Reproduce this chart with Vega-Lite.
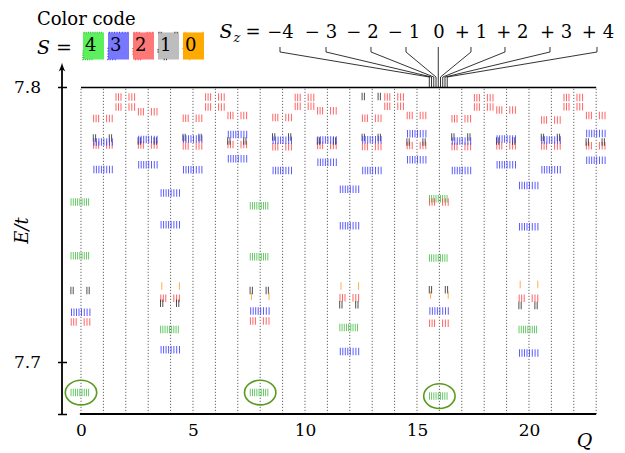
{
  "$schema": "https://vega.github.io/schema/vega-lite/v6.json",
  "width": 553,
  "height": 414,
  "autosize": {"type": "none"},
  "padding": {"left": 62, "top": 0, "right": 10, "bottom": 39},
  "background": "white",
  "config": {"view": {"stroke": null}, "font": "DejaVu Serif"},
  "title": {"text": "Color code", "anchor": "start", "frame": "group", "offset": -25, "dy": 22, "dx": -25, "fontSize": 18, "fontWeight": "normal", "font": "DejaVu Serif", "color": "black", "baseline": "bottom"},
  "datasets": {
    "grid": [{"Q":0},{"Q":1},{"Q":2},{"Q":3},{"Q":4},{"Q":5},{"Q":6},{"Q":7},{"Q":8},{"Q":9},{"Q":10},{"Q":11},{"Q":12},{"Q":13},{"Q":14},{"Q":15},{"Q":16},{"Q":17},{"Q":18},{"Q":19},{"Q":20},{"Q":21},{"Q":22},{"Q":23}],
    "ground": [{"Q":0,"E":7.6890},{"Q":8,"E":7.6890},{"Q":16,"E":7.6877}],
    "sz": [
      {"Sz":-4,"lab":"−4","cq":8.906,"lq":8.884,"tq":15.55},
      {"Sz":-3,"lab":"− 3","cq":10.714,"lq":10.938,"tq":15.65},
      {"Sz":-2,"lab":"− 2","cq":12.567,"lq":12.946,"tq":15.75},
      {"Sz":-1,"lab":"− 1","cq":14.42,"lq":14.509,"tq":15.85},
      {"Sz":0,"lab":"0","cq":15.98,"lq":15.95,"tq":15.95},
      {"Sz":1,"lab":"+ 1","cq":17.41,"lq":17.41,"tq":16.05},
      {"Sz":2,"lab":"+ 2","cq":19.26,"lq":18.929,"tq":16.15},
      {"Sz":3,"lab":"+ 3","cq":21.21,"lq":20.938,"tq":16.25},
      {"Sz":4,"lab":"+ 4","cq":23.08,"lq":23.036,"tq":16.35}
    ],
    "levels": [
      {"Q":0,"E":7.7583,"S":4},{"Q":0,"E":7.7388,"S":4},{"Q":0,"E":7.7261,"S":1},{"Q":0,"E":7.7182,"S":3},{"Q":0,"E":7.7147,"S":2},{"Q":0,"E":7.6890,"S":4},
      {"Q":1,"E":7.7887,"S":2},{"Q":1,"E":7.7791,"S":2},{"Q":1,"E":7.7816,"S":1},{"Q":1,"E":7.7802,"S":3},{"Q":1,"E":7.7702,"S":3},
      {"Q":2,"E":7.7965,"S":2},{"Q":2,"E":7.7929,"S":2},
      {"Q":3,"E":7.7912,"S":2},{"Q":3,"E":7.7791,"S":2},{"Q":3,"E":7.7805,"S":1},{"Q":3,"E":7.7811,"S":3},{"Q":3,"E":7.7719,"S":3},
      {"Q":4,"E":7.7616,"S":3},{"Q":4,"E":7.7501,"S":3},{"Q":4,"E":7.7278,"S":0},{"Q":4,"E":7.7233,"S":2},{"Q":4,"E":7.7215,"S":1},{"Q":4,"E":7.7119,"S":4},{"Q":4,"E":7.7046,"S":3},
      {"Q":5,"E":7.7888,"S":2},{"Q":5,"E":7.7787,"S":2},{"Q":5,"E":7.7818,"S":1},{"Q":5,"E":7.7813,"S":3},{"Q":5,"E":7.7701,"S":3},
      {"Q":6,"E":7.7965,"S":2},{"Q":6,"E":7.7929,"S":2},
      {"Q":7,"E":7.7898,"S":2},{"Q":7,"E":7.7793,"S":2},{"Q":7,"E":7.7805,"S":1},{"Q":7,"E":7.7829,"S":3},{"Q":7,"E":7.7741,"S":3},
      {"Q":8,"E":7.7570,"S":4},{"Q":8,"E":7.7384,"S":4},{"Q":8,"E":7.7261,"S":1},{"Q":8,"E":7.7240,"S":0},{"Q":8,"E":7.7187,"S":3},{"Q":8,"E":7.7150,"S":2},{"Q":8,"E":7.6890,"S":4},
      {"Q":9,"E":7.7891,"S":2},{"Q":9,"E":7.7784,"S":2},{"Q":9,"E":7.7820,"S":1},{"Q":9,"E":7.7808,"S":3},{"Q":9,"E":7.7698,"S":3},
      {"Q":10,"E":7.7964,"S":2},{"Q":10,"E":7.7932,"S":2},
      {"Q":11,"E":7.7915,"S":2},{"Q":11,"E":7.7789,"S":2},{"Q":11,"E":7.7805,"S":1},{"Q":11,"E":7.7809,"S":3},{"Q":11,"E":7.7728,"S":3},
      {"Q":12,"E":7.7630,"S":3},{"Q":12,"E":7.7497,"S":3},{"Q":12,"E":7.7278,"S":0},{"Q":12,"E":7.7235,"S":2},{"Q":12,"E":7.7209,"S":1},{"Q":12,"E":7.7127,"S":4},{"Q":12,"E":7.7039,"S":3},
      {"Q":13,"E":7.7967,"S":1},{"Q":13,"E":7.7888,"S":2},{"Q":13,"E":7.7785,"S":2},{"Q":13,"E":7.7818,"S":1},{"Q":13,"E":7.7810,"S":3},{"Q":13,"E":7.7698,"S":3},
      {"Q":14,"E":7.7965,"S":2},{"Q":14,"E":7.7932,"S":2},
      {"Q":15,"E":7.7898,"S":2},{"Q":15,"E":7.7789,"S":2},{"Q":15,"E":7.7802,"S":1},{"Q":15,"E":7.7832,"S":3},{"Q":15,"E":7.7737,"S":3},
      {"Q":16,"E":7.7595,"S":4},{"Q":16,"E":7.7583,"S":2},{"Q":16,"E":7.7380,"S":4},{"Q":16,"E":7.7264,"S":1},{"Q":16,"E":7.7245,"S":0},{"Q":16,"E":7.7187,"S":3},{"Q":16,"E":7.7142,"S":2},{"Q":16,"E":7.6877,"S":4},
      {"Q":17,"E":7.7886,"S":2},{"Q":17,"E":7.7785,"S":2},{"Q":17,"E":7.7820,"S":1},{"Q":17,"E":7.7805,"S":3},{"Q":17,"E":7.7698,"S":3},
      {"Q":18,"E":7.7963,"S":2},{"Q":18,"E":7.7929,"S":2},
      {"Q":19,"E":7.7918,"S":2},{"Q":19,"E":7.7788,"S":2},{"Q":19,"E":7.7805,"S":1},{"Q":19,"E":7.7813,"S":3},{"Q":19,"E":7.7719,"S":3},
      {"Q":20,"E":7.7643,"S":3},{"Q":20,"E":7.7493,"S":3},{"Q":20,"E":7.7283,"S":0},{"Q":20,"E":7.7233,"S":2},{"Q":20,"E":7.7207,"S":1},{"Q":20,"E":7.7119,"S":4},{"Q":20,"E":7.7034,"S":3},
      {"Q":21,"E":7.7882,"S":2},{"Q":21,"E":7.7787,"S":2},{"Q":21,"E":7.7818,"S":1},{"Q":21,"E":7.7809,"S":3},{"Q":21,"E":7.7701,"S":3},
      {"Q":22,"E":7.7964,"S":2},{"Q":22,"E":7.7930,"S":2},
      {"Q":23,"E":7.7898,"S":2},{"Q":23,"E":7.7788,"S":2},{"Q":23,"E":7.7802,"S":1},{"Q":23,"E":7.7833,"S":3},{"Q":23,"E":7.7735,"S":3}
    ]
  },
  "layer": [
    {
      "data": {"name": "grid"},
      "mark": {"type": "rule", "stroke": "#555555", "strokeDash": [1.2, 1.8], "strokeWidth": 0.9},
      "encoding": {
        "x": {"field": "Q", "type": "quantitative", "scale": {"domain": [-0.848, 23.84], "nice": false, "zero": false},
          "axis": {"values": [0, 5, 10, 15, 20], "domain": false, "ticks": false, "grid": false, "labelFontSize": 17, "labelFont": "DejaVu Serif", "labelColor": "black", "labelPadding": 8, "labelFlush": false,
            "title": "Q", "titleFont": "DejaVu Serif", "titleFontStyle": "italic", "titleFontWeight": "normal", "titleFontSize": 19, "titleX": 522, "titleY": 32, "titleBaseline": "alphabetic", "titleAlign": "center", "titleColor": "black"}},
        "y": {"datum": 7.68119, "type": "quantitative", "scale": {"domain": [7.68119, 7.83184], "nice": false, "zero": false},
          "axis": {"values": [7.68119, 7.7, 7.8], "labelExpr": "datum.value < 7.69 ? '' : format(datum.value, '.1f')", "domain": false, "ticks": true, "tickSize": 9, "tickColor": "black", "tickWidth": 1.5, "offset": -4.5, "labelPadding": 17, "labelFontSize": 17, "labelFont": "DejaVu Serif", "labelColor": "black", "grid": false, "labelFlush": false,
            "title": "E/t", "titleFont": "DejaVu Serif", "titleFontStyle": "italic", "titleFontWeight": "normal", "titleFontSize": 18, "titleX": -44, "titleY": 230, "titleAlign": "center", "titleBaseline": "middle", "titleColor": "black"}},
        "y2": {"datum": 7.8}
      }
    },
    {
      "data": {"values": [{}]},
      "mark": {"type": "rule", "color": "black", "strokeWidth": 1.6},
      "encoding": {"x": {"datum": 0, "type": "quantitative"}, "x2": {"datum": 23}, "y": {"datum": 7.8, "type": "quantitative"}}
    },
    {
      "data": {"values": [{}]},
      "mark": {"type": "rule", "color": "black", "strokeWidth": 1.8},
      "encoding": {"x": {"datum": -0.05, "type": "quantitative"}, "x2": {"datum": 23}, "y": {"datum": 7.68119, "type": "quantitative"}}
    },
    {
      "data": {"values": [{}]},
      "mark": {"type": "rule", "color": "black", "strokeWidth": 1.8},
      "encoding": {"x": {"datum": -0.848, "type": "quantitative"}, "y": {"datum": 7.68119, "type": "quantitative"}, "y2": {"datum": 7.8072}}
    },
    {
      "data": {"values": [{}]},
      "mark": {"type": "point", "filled": true, "color": "black", "opacity": 1, "size": 90, "shape": "M0,-1 C0.12,-0.45 0.4,0.25 0.7,0.85 C0.4,0.6 0.15,0.5 0,0.5 C-0.15,0.5 -0.4,0.6 -0.7,0.85 C-0.4,0.25 -0.12,-0.45 0,-1 Z"},
      "encoding": {"x": {"datum": -0.848, "type": "quantitative"}, "y": {"datum": 7.8073, "type": "quantitative"}}
    },
    {
      "data": {"name": "levels"},
      "mark": {"type": "rule", "strokeWidth": 7.5, "xOffset": -11, "x2Offset": 11, "strokeOpacity": 0.85},
      "encoding": {
        "x": {"field": "Q", "type": "quantitative"},
        "x2": {"field": "Q"},
        "y": {"field": "E", "type": "quantitative"},
        "color": {"field": "S", "type": "nominal",
          "scale": {"domain": [4, 3, 2, 1, 0], "range": ["#3cb93c", "#4040ff", "#ff4a4a", "#333333", "#ffa030"]},
          "legend": {"orient": "none", "legendX": -25, "legendY": 34, "direction": "horizontal", "title": "S =", "titleOrient": "left", "titleFont": "DejaVu Serif", "titleFontSize": 19, "titleFontStyle": "italic", "titleFontWeight": "normal", "titleColor": "black", "titlePadding": 10,
            "symbolType": "M-1,-1.29H1V1.29H-1Z", "symbolSize": 441, "symbolStrokeWidth": 1.5, "labelFont": "DejaVu Serif", "labelFontSize": 18, "labelOffset": -20, "labelColor": "black", "columnPadding": -4, "padding": 0,
            "encode": {"symbols": {"update": {
              "size": {"value": 441},
              "fill": {"signal": "datum.label == '4' ? '#5cf05c' : datum.label == '3' ? '#7878ff' : datum.label == '2' ? '#ff7878' : datum.label == '1' ? '#bdbdbd' : '#ffaa00'"},
              "stroke": {"signal": "datum.label == '4' ? '#2e9a2e' : datum.label == '3' ? '#2a2aff' : datum.label == '2' ? '#ff2a2a' : datum.label == '1' ? '#000000' : '#ff8c00'"},
              "fillOpacity": {"value": 1}, "strokeOpacity": {"value": 1}, "opacity": {"value": 1}, "strokeWidth": {"value": 1.5}, "strokeDash": {"value": []}}}}}},
        "strokeDash": {"field": "S", "type": "nominal",
          "scale": {"domain": [4, 3, 2, 1, 0], "range": [
            [0,0.6,0.9,1.3,0.9,1.3,0.9,1.3,0.9,1.3,0.9,1.3,0.9,1.3,0.9,1.3,0.9,1.3,0.9,40],
            [0,1,1,1.5,1,1.5,1,1.5,1,1.5,1,1.8,1,1.8,1,1.8,1,40],
            [0,0.7,1,1.5,1,1.5,1,7,1,1.8,1,1.8,1,40],
            [0,0.4,1,1.3,1,12.7,1,1.3,1,40],
            [0,1.7,1,16.6,1,40]
          ]},
          "legend": null}
      }
    },
    {
      "data": {"name": "ground"},
      "mark": {"type": "point", "filled": false, "stroke": "#5a9a1e", "strokeWidth": 1.6, "opacity": 1, "size": 986, "shape": "M-1,0 A1,0.787 0 1 1 1,0 A1,0.787 0 1 1 -1,0 Z"},
      "encoding": {"x": {"field": "Q", "type": "quantitative"}, "y": {"field": "E", "type": "quantitative"}}
    },
    {
      "data": {"name": "sz"},
      "mark": {"type": "text", "font": "DejaVu Serif", "fontSize": 18, "align": "center", "baseline": "alphabetic", "color": "black"},
      "encoding": {"x": {"field": "cq", "type": "quantitative"}, "y": {"datum": 7.81801, "type": "quantitative"}, "text": {"field": "lab"}}
    },
    {
      "data": {"name": "sz"},
      "mark": {"type": "rule", "color": "black", "strokeWidth": 0.8},
      "encoding": {"x": {"field": "lq", "type": "quantitative"}, "y": {"datum": 7.81474, "type": "quantitative"}, "y2": {"datum": 7.81292}}
    },
    {
      "data": {"name": "sz"},
      "mark": {"type": "rule", "color": "black", "strokeWidth": 0.8},
      "encoding": {"x": {"field": "lq", "type": "quantitative"}, "y": {"datum": 7.81292, "type": "quantitative"}, "x2": {"field": "tq"}, "y2": {"datum": 7.80382}}
    },
    {
      "data": {"name": "sz"},
      "mark": {"type": "rule", "color": "black", "strokeWidth": 0.8},
      "encoding": {"x": {"field": "tq", "type": "quantitative"}, "y": {"datum": 7.80382, "type": "quantitative"}, "y2": {"datum": 7.8}}
    },
    {
      "data": {"values": [{"t": "S"}]},
      "mark": {"type": "text", "font": "DejaVu Serif", "fontSize": 19, "fontStyle": "italic", "align": "center", "baseline": "alphabetic", "color": "black"},
      "encoding": {"x": {"datum": 6.47, "type": "quantitative"}, "y": {"datum": 7.81801, "type": "quantitative"}, "text": {"field": "t"}}
    },
    {
      "data": {"values": [{"t": "z"}]},
      "mark": {"type": "text", "font": "DejaVu Serif", "fontSize": 13, "fontStyle": "italic", "align": "center", "baseline": "alphabetic", "color": "black"},
      "encoding": {"x": {"datum": 6.96, "type": "quantitative"}, "y": {"datum": 7.8164, "type": "quantitative"}, "text": {"field": "t"}}
    },
    {
      "data": {"values": [{"t": "="}]},
      "mark": {"type": "text", "font": "DejaVu Serif", "fontSize": 18, "align": "center", "baseline": "alphabetic", "color": "black"},
      "encoding": {"x": {"datum": 7.68, "type": "quantitative"}, "y": {"datum": 7.81801, "type": "quantitative"}, "text": {"field": "t"}}
    }
  ]
}
